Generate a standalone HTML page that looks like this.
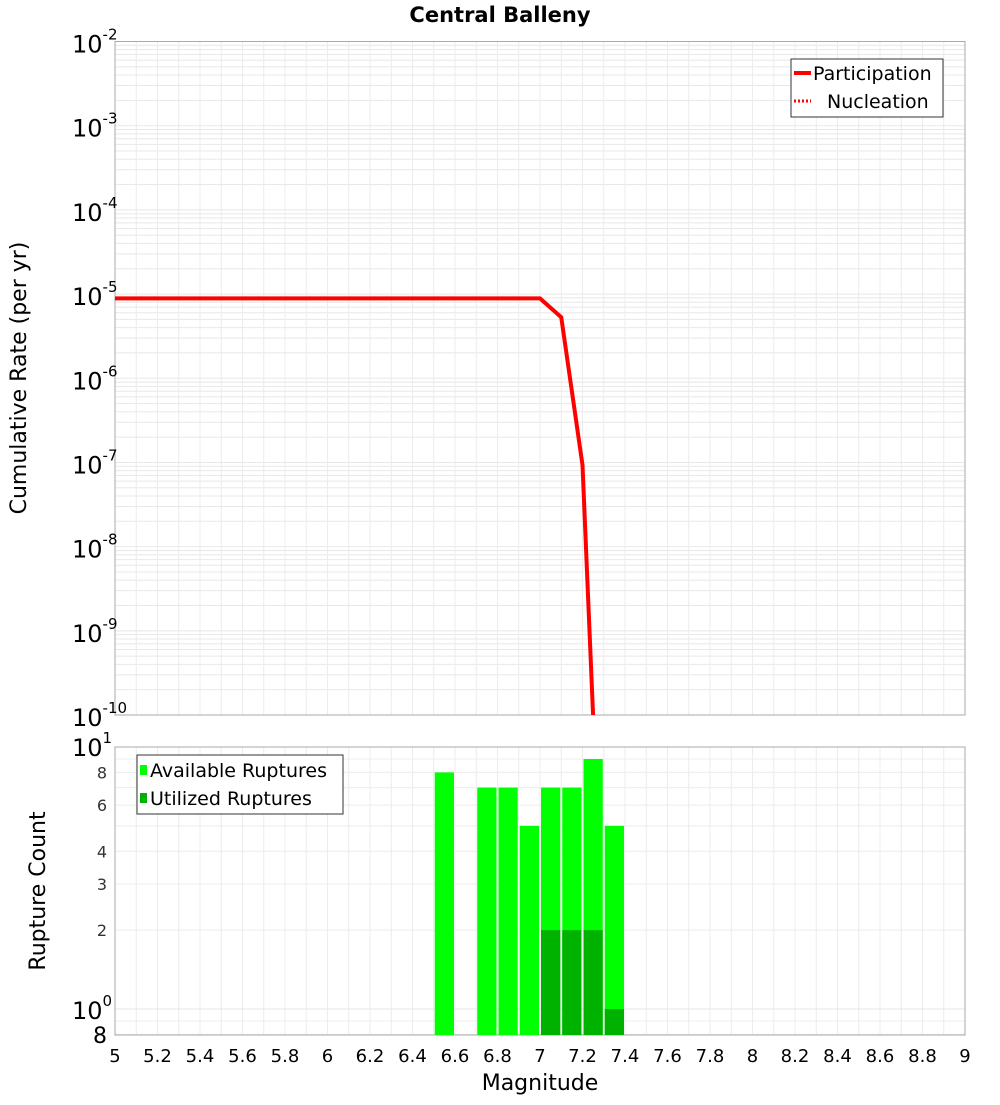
<!DOCTYPE html>
<html><head><meta charset="utf-8"><style>
body{margin:0;background:#fff;font-family:"Liberation Sans","DejaVu Sans",sans-serif}
svg text{font-family:"DejaVu Sans","Liberation Sans",sans-serif}
</style></head><body>
<svg id="c" width="1000" height="1100" xmlns="http://www.w3.org/2000/svg"></svg>
<script>
const mags=[5,5.1,5.2,5.3,5.4,5.5,5.6,5.7,5.8,5.9,6,6.1,6.2,6.3,6.4,6.5,6.6,6.7,6.8,6.9,7.0,7.1,7.2,7.3];
const partRates=[8.9e-6,8.9e-6,8.9e-6,8.9e-6,8.9e-6,8.9e-6,8.9e-6,8.9e-6,8.9e-6,8.9e-6,8.9e-6,8.9e-6,8.9e-6,8.9e-6,8.9e-6,8.9e-6,8.9e-6,8.9e-6,8.9e-6,8.9e-6,8.9e-6,5.3e-6,9.3e-8,1e-13];
const nuclRates=[8.9e-6,8.9e-6,8.9e-6,8.9e-6,8.9e-6,8.9e-6,8.9e-6,8.9e-6,8.9e-6,8.9e-6,8.9e-6,8.9e-6,8.9e-6,8.9e-6,8.9e-6,8.9e-6,8.9e-6,8.9e-6,8.9e-6,8.9e-6,8.9e-6,5.3e-6,9.3e-8,1e-13];
const binStarts=[6.5,6.7,6.8,6.9,7.0,7.1,7.2,7.3];
const availCounts=[8,7,7,5,7,7,9,5];
const utilCounts=[0,0,0,0,2,2,2,1];
const xTicks=[5,5.2,5.4,5.6,5.8,6,6.2,6.4,6.6,6.8,7,7.2,7.4,7.6,7.8,8,8.2,8.4,8.6,8.8,9];
const topExps=[-2,-3,-4,-5,-6,-7,-8,-9,-10];
const botTicks=[8,6,4,3,2];

const NS="http://www.w3.org/2000/svg";
const svg=document.getElementById('c');
function el(tag,attrs,parent){const e=document.createElementNS(NS,tag);for(const k in attrs)e.setAttribute(k,attrs[k]);(parent||svg).appendChild(e);return e;}
const X0=115,X1=965;
const xs=m=>X0+(m-5)/4*(X1-X0);
const T0=41.5,T1=715;
const yTop=v=>T0+(-2-Math.log10(v))*(T1-T0)/8;
const B0=747,B1=1035,BD=262,B10=1009;
const yBot=v=>B10-Math.log10(v)*BD;

let t=el('text',{x:500,y:22,'text-anchor':'middle','font-size':21,'font-weight':'bold'});
t.textContent='Central Balleny';


// top plot grid
const gTop=el('g',{});

for(let e=-10;e<-2;e++)for(let k=1;k<10;k++){const y=yTop(k*Math.pow(10,e));el('line',{x1:X0,x2:X1,y1:y,y2:y,stroke:'#e8e8e8','stroke-width':1},gTop);}
for(let m=5;m<=9.001;m+=0.1){const x=xs(m);el('line',{x1:x,x2:x,y1:T0,y2:T1,stroke:'#ececec','stroke-width':1},gTop);el('line',{x1:x,x2:x,y1:B0,y2:B1,stroke:'#ececec','stroke-width':1},gTop);}
for(let e=-1;e<=0;e++)for(let k=1;k<10;k++){const y=yBot(k*Math.pow(10,e));if(y>B0&&y<B1)el('line',{x1:X0,x2:X1,y1:y,y2:y,stroke:'#ececec','stroke-width':1},gTop);}
el('line',{x1:X0,x2:X1,y1:yBot(1),y2:yBot(1),stroke:'#e6e6e6'},gTop);

// frames
let f=el('rect',{x:X0,y:T0,width:X1-X0,height:T1-T0,fill:'none',stroke:'#aaa'});

f=el('rect',{x:X0,y:B0,width:X1-X0,height:B1-B0,fill:'none',stroke:'#aaa'});


// top y labels
topExps.forEach(e=>{const y=yTop(Math.pow(10,e));const tx=el('text',{x:72,y:y+11,'font-size':24});

tx.innerHTML='10<tspan dy="-13" font-size="15">'+e+'</tspan>';});
t=el('text',{transform:'translate(26,378) rotate(-90)','text-anchor':'middle','font-size':22});
t.textContent='Cumulative Rate (per yr)';

// lines
const clip=el('clipPath',{id:'cp'});el('rect',{x:X0,y:T0,width:X1-X0,height:T1-T0},clip);
let p=el('polyline',{points:mags.map((m,i)=>xs(m)+','+yTop(partRates[i])).join(' '),fill:'none',stroke:'#ff0000','stroke-width':4,'clip-path':'url(#cp)'});

p=el('polyline',{points:mags.map((m,i)=>xs(m)+','+yTop(nuclRates[i])).join(' '),fill:'none',stroke:'#ff0000','stroke-width':3,'stroke-dasharray':'2,2','clip-path':'url(#cp)'});


// top legend
const lg=el('g',{});
el('rect',{x:791,y:59,width:152,height:58,fill:'#fff',stroke:'#333'},lg);
el('line',{x1:794,x2:811,y1:73,y2:73,stroke:'#f00','stroke-width':4},lg);
el('line',{x1:794,x2:811,y1:101,y2:101,stroke:'#f00','stroke-width':3,'stroke-dasharray':'2,2'},lg);
t=el('text',{x:813,y:80,'font-size':19},lg);t.textContent='Participation';

t=el('text',{x:827,y:108,'font-size':19},lg);t.textContent='Nucleation';


// bars
binStarts.forEach((m,i)=>{const x=xs(m)+1,w=xs(m+0.1)-xs(m)-2;
let r=el('rect',{x:x,y:yBot(availCounts[i]),width:w,height:B1-yBot(availCounts[i]),fill:'#00ff00'});

if(utilCounts[i]>0){r=el('rect',{x:x,y:yBot(utilCounts[i]),width:w,height:B1-yBot(utilCounts[i]),fill:'#00b200'});
}});

// bottom y labels
botTicks.forEach(v=>{const tx=el('text',{x:107,y:yBot(v)+6,'text-anchor':'end','font-size':16,fill:'#333'});tx.textContent=v;
});
t=el('text',{x:72,y:756,'font-size':24});t.innerHTML='10<tspan dy="-13" font-size="15">1</tspan>';

t=el('text',{x:72,y:1019,'font-size':24});t.innerHTML='10<tspan dy="-13" font-size="15">0</tspan>';

t=el('text',{x:107,y:1043,'text-anchor':'end','font-size':22});t.textContent='8';

t=el('text',{transform:'translate(45,891) rotate(-90)','text-anchor':'middle','font-size':22});
t.textContent='Rupture Count';

// bottom legend
const lg2=el('g',{});
el('rect',{x:137,y:755,width:206,height:59,fill:'#fff',stroke:'#333'},lg2);
el('rect',{x:140,y:765,width:7,height:10,fill:'#00ff00'},lg2);
el('rect',{x:140,y:793,width:7,height:10,fill:'#00b200'},lg2);
t=el('text',{x:150,y:777,'font-size':19},lg2);t.textContent='Available Ruptures';

t=el('text',{x:150,y:805,'font-size':19},lg2);t.textContent='Utilized Ruptures';


// x ticks
xTicks.forEach(m=>{const tx=el('text',{x:xs(m),y:1062,'text-anchor':'middle','font-size':18});tx.textContent=String(m);
});
t=el('text',{x:540,y:1090,'text-anchor':'middle','font-size':22});t.textContent='Magnitude';

</script>
</body></html>
